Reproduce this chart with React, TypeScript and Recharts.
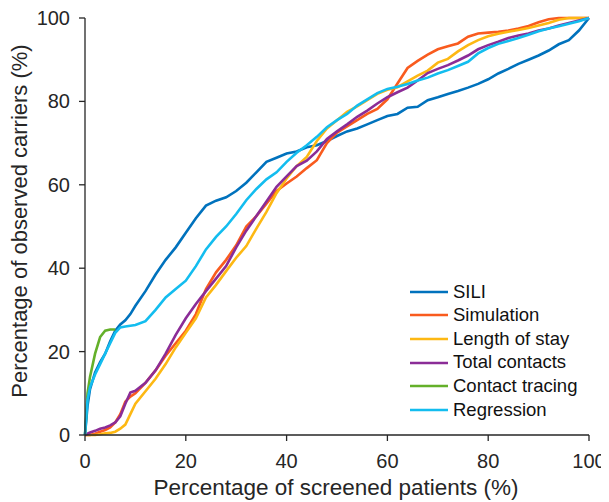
import React from 'react';
import { LineChart, Line, XAxis, YAxis, Legend } from 'recharts';

// screened share (%) where each curve is sampled
const screened = [0, 0.5, 1, 2, 3, 4, 5, 6, 7, 8, 9, 10,
  12, 14, 16, 18, 20, 22, 24, 26, 28, 30,
  32, 34, 36, 38, 40, 42, 44, 46, 48, 50,
  52, 54, 56, 58, 60, 62, 64, 66, 68, 70,
  72, 74, 76, 78, 80, 82, 84, 86, 88, 90,
  92, 94, 96, 98, 100];

const sili = [0, 7, 11, 15, 17.5, 19.5, 22.5, 25, 26.5, 27.5, 29, 31,
  34.5, 38.5, 42, 45, 48.5, 52, 55, 56.2, 57, 58.5,
  60.5, 63, 65.5, 66.5, 67.5, 68, 69, 69.5, 70.5, 71.7,
  72.8, 73.5, 74.5, 75.5, 76.5, 77, 78.5, 78.7, 80.3, 81,
  81.8, 82.5, 83.3, 84.2, 85.3, 86.7, 87.8, 89, 90, 91,
  92.2, 93.7, 94.7, 97, 100];

const simulation = [0, 0, 0, 0.3, 0.8, 1.2, 1.8, 3, 5, 8, 9.2, 10,
  12.5, 15.5, 19, 22, 25, 29, 35, 39, 42, 45.5,
  50, 52.5, 55.5, 58.5, 60.3, 62, 64, 65.9, 70, 72.5,
  74, 75.5, 77, 78.2, 80.5, 84.3, 88, 89.7, 91.2, 92.5,
  93.2, 93.9, 95.5, 96.3, 96.5, 96.7, 97, 97.5, 98.1, 99,
  99.7, 100, 100, 100, 100];

const lengthOfStay = [0, 0, 0, 0, 0.2, 0.4, 0.5, 0.8, 1.5, 2.5, 5, 7.5,
  10.5, 13.5, 17, 21, 24.5, 28, 33, 36, 39.3, 42.5,
  45.3, 49.5, 53.5, 58, 61.5, 64.5, 66.7, 70.5, 73.5, 75.5,
  77.5, 78.8, 80.3, 81.8, 82.8, 83.4, 84.8, 86.2, 87.4, 89.3,
  90.2, 92, 93.5, 94.7, 95.6, 96.2, 96.7, 97.1, 97.6, 98.2,
  98.8, 99.6, 100, 100, 100];

const totalContacts = [0, 0.3, 0.6, 1, 1.5, 1.8, 2.3, 3, 4.5, 7.5, 10.2, 10.6,
  12.5, 15.5, 19.5, 24, 28, 31.4, 34.5, 37.5, 40.5, 45,
  49, 52.5, 56, 59.5, 62, 64.5, 65.8, 68, 71, 72.8,
  74.5, 76.3, 77.8, 79.5, 81, 82.2, 83.3, 85, 86.8, 87.8,
  88.7, 89.8, 91, 92.5, 93.5, 94.3, 95.2, 95.8, 96.3, 97,
  97.5, 98.2, 98.8, 99.4, 100];

const contactTracing = [0, 10, 14, 19.5, 23.5, 25, 25.3, 25.3];

const regression = [0, 8.5, 11.5, 14.5, 17, 19.5, 22, 24.5, 25.8, 26, 26.2, 26.4,
  27.3, 30, 33, 35, 37, 40.5, 44.5, 47.5, 50, 53,
  56.3, 59, 61.3, 63, 65.5, 67.7, 69.5, 71.5, 73.8, 75.5,
  77, 79, 80.5, 82, 83, 83.5, 84.2, 85, 85.7, 86.7,
  87.5, 88.5, 89.5, 91.5, 92.8, 93.8, 94.5, 95.2, 96, 96.8,
  97.5, 98, 98.6, 99.2, 100];

const ticks = [0, 20, 40, 60, 80, 100];

const series = [
  { key: 'sili', name: 'SILI', color: '#0072BD' },
  { key: 'simulation', name: 'Simulation', color: '#F95B1E' },
  { key: 'los', name: 'Length of stay', color: '#FDB813' },
  { key: 'contacts', name: 'Total contacts', color: '#8B2C97' },
  { key: 'tracing', name: 'Contact tracing', color: '#64B02A' },
  { key: 'regression', name: 'Regression', color: '#13BDEF' },
];

const data = screened.map((x, i) => ({
  x,
  sili: sili[i],
  simulation: simulation[i],
  los: lengthOfStay[i],
  contacts: totalContacts[i],
  tracing: i < contactTracing.length ? contactTracing[i] : null,
  regression: regression[i],
}));

const FONT = '"Liberation Sans", Arial, Helvetica, sans-serif';
const INK = '#262626';

const XTick = (props: any) => {
  const { x, y, payload } = props;
  return (
    <g>
      <line x1={x} x2={x} y1={y} y2={y + 6} stroke={INK} strokeWidth={1.3} />
      <text x={x} y={y + 33} textAnchor="middle" fontSize={20} fill={INK} fontFamily={FONT}>
        {payload.value}
      </text>
    </g>
  );
};

const YTick = (props: any) => {
  const { x, y, payload } = props;
  return (
    <g>
      <line x1={x - 6} x2={x} y1={y} y2={y} stroke={INK} strokeWidth={1.3} />
      <text x={x - 15} y={y + 7} textAnchor="end" fontSize={20} fill={INK} fontFamily={FONT}>
        {payload.value}
      </text>
    </g>
  );
};

const LegendBox = () => (
  <div style={{ fontFamily: FONT }}>
    {series.map((s) => (
      <div key={s.key} style={{ display: 'flex', alignItems: 'center', height: 23.6 }}>
        <svg width={38} height={4} style={{ display: 'block' }}>
          <line x1={0} x2={38} y1={2} y2={2} stroke={s.color} strokeWidth={2.6} />
        </svg>
        <span style={{ marginLeft: 5, fontSize: 18.5, lineHeight: 1, color: '#111' }}>{s.name}</span>
      </div>
    ))}
  </div>
);

export default function App() {
  return (
    <div style={{ position: 'relative', width: 600, height: 494 }}>
      <LineChart
        width={600}
        height={494}
        data={data}
        margin={{ top: 10, right: 19, left: 0, bottom: 27 }}
      >
        <XAxis
          dataKey="x"
          type="number"
          domain={[0, 100]}
          ticks={ticks}
          tick={<XTick />}
          tickSize={0}
          tickMargin={0}
          tickLine={false}
          height={40}
          axisLine={{ stroke: INK, strokeWidth: 1.3 }}
        />
        <YAxis
          type="number"
          domain={[0, 100]}
          ticks={ticks}
          tick={<YTick />}
          tickSize={0}
          tickMargin={0}
          tickLine={false}
          width={77}
          axisLine={{ stroke: INK, strokeWidth: 1.3 }}
        />
        <Legend
          layout="vertical"
          align="center"
          verticalAlign="middle"
          content={() => <LegendBox />}
          wrapperStyle={{ left: 402, top: 272, width: 180, height: 150 }}
        />
        {series.map((s) => (
          <Line
            key={s.key}
            dataKey={s.key}
            name={s.name}
            type="linear"
            stroke={s.color}
            strokeWidth={2.6}
            dot={false}
            activeDot={false}
            connectNulls={false}
            isAnimationActive={false}
          />
        ))}
      </LineChart>
      <svg
        width={600}
        height={494}
        style={{ position: 'absolute', left: 0, top: 0, pointerEvents: 'none' }}
      >
        <text x={328} y={487} textAnchor="middle" fontSize={22.5} fill={INK} fontFamily={FONT}>
          Percentage of screened patients (%)
        </text>
        <text
          transform="translate(19,213) rotate(-90)"
          textAnchor="middle"
          fontSize={22}
          fill={INK}
          fontFamily={FONT}
        >
          Percentage of observed carriers (%)
        </text>
      </svg>
    </div>
  );
}
